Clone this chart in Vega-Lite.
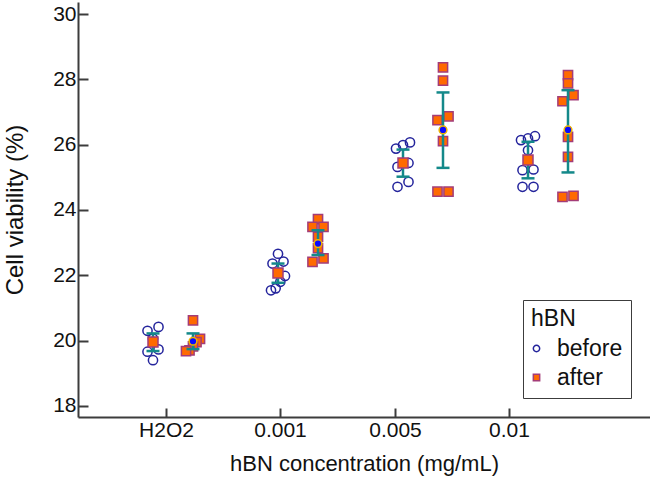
{
  "$schema": "https://vega.github.io/schema/vega-lite/v6.json",
  "width": 572,
  "height": 415,
  "autosize": "none",
  "padding": {"left": 78, "top": 2, "right": 0, "bottom": 70},
  "background": "white",
  "config": {
    "view": {"stroke": null},
    "font": "Liberation Sans",
    "axis": {
      "grid": false,
      "domainColor": "#3c3c3c",
      "domainWidth": 2,
      "tickColor": "#3c3c3c",
      "tickWidth": 2,
      "labelColor": "#111111",
      "labelFont": "Liberation Sans",
      "labelFontSize": 21,
      "titleFont": "Liberation Sans",
      "titleFontWeight": "normal",
      "titleColor": "#111111",
      "labelOverlap": false,
      "labelFlush": false
    },
    "legend": {
      "orient": "none",
      "legendX": 445,
      "legendY": 298,
      "strokeColor": "#3c3c3c",
      "padding": 8,
      "titleFont": "Liberation Sans",
      "titleFontSize": 23,
      "titleFontWeight": "normal",
      "titleColor": "#111111",
      "titlePadding": 6,
      "labelFont": "Liberation Sans",
      "labelFontSize": 23,
      "labelColor": "#111111",
      "labelOffset": 9,
      "labelExpr": "datum.label + '\u00a0\u00a0\u00a0'",
      "symbolOffset": -6,
      "symbolSize": 40,
      "symbolStrokeWidth": 1.5,
      "rowPadding": 5
    }
  },
  "datasets": {
    "cells": [
      {"conc": "H2O2", "hBN": "before", "value": 20.42},
      {"conc": "H2O2", "hBN": "before", "value": 20.30},
      {"conc": "H2O2", "hBN": "before", "value": 20.06},
      {"conc": "H2O2", "hBN": "before", "value": 19.73},
      {"conc": "H2O2", "hBN": "before", "value": 19.66},
      {"conc": "H2O2", "hBN": "before", "value": 19.40},
      {"conc": "H2O2", "hBN": "after", "value": 20.62},
      {"conc": "H2O2", "hBN": "after", "value": 20.05},
      {"conc": "H2O2", "hBN": "after", "value": 19.95},
      {"conc": "H2O2", "hBN": "after", "value": 19.82},
      {"conc": "H2O2", "hBN": "after", "value": 19.70},
      {"conc": "H2O2", "hBN": "after", "value": 19.68},
      {"conc": "0.001", "hBN": "before", "value": 22.66},
      {"conc": "0.001", "hBN": "before", "value": 22.42},
      {"conc": "0.001", "hBN": "before", "value": 22.36},
      {"conc": "0.001", "hBN": "before", "value": 21.98},
      {"conc": "0.001", "hBN": "before", "value": 21.80},
      {"conc": "0.001", "hBN": "before", "value": 21.60},
      {"conc": "0.001", "hBN": "before", "value": 21.54},
      {"conc": "0.001", "hBN": "after", "value": 23.72},
      {"conc": "0.001", "hBN": "after", "value": 23.48},
      {"conc": "0.001", "hBN": "after", "value": 23.48},
      {"conc": "0.001", "hBN": "after", "value": 23.18},
      {"conc": "0.001", "hBN": "after", "value": 22.83},
      {"conc": "0.001", "hBN": "after", "value": 22.52},
      {"conc": "0.001", "hBN": "after", "value": 22.41},
      {"conc": "0.005", "hBN": "before", "value": 26.07},
      {"conc": "0.005", "hBN": "before", "value": 25.99},
      {"conc": "0.005", "hBN": "before", "value": 25.88},
      {"conc": "0.005", "hBN": "before", "value": 25.44},
      {"conc": "0.005", "hBN": "before", "value": 25.32},
      {"conc": "0.005", "hBN": "before", "value": 24.86},
      {"conc": "0.005", "hBN": "before", "value": 24.71},
      {"conc": "0.005", "hBN": "after", "value": 28.37},
      {"conc": "0.005", "hBN": "after", "value": 27.96},
      {"conc": "0.005", "hBN": "after", "value": 26.87},
      {"conc": "0.005", "hBN": "after", "value": 26.75},
      {"conc": "0.005", "hBN": "after", "value": 26.11},
      {"conc": "0.005", "hBN": "after", "value": 24.56},
      {"conc": "0.005", "hBN": "after", "value": 24.56},
      {"conc": "0.01", "hBN": "before", "value": 26.26},
      {"conc": "0.01", "hBN": "before", "value": 26.19},
      {"conc": "0.01", "hBN": "before", "value": 26.14},
      {"conc": "0.01", "hBN": "before", "value": 25.83},
      {"conc": "0.01", "hBN": "before", "value": 25.24},
      {"conc": "0.01", "hBN": "before", "value": 25.22},
      {"conc": "0.01", "hBN": "before", "value": 24.71},
      {"conc": "0.01", "hBN": "before", "value": 24.71},
      {"conc": "0.01", "hBN": "after", "value": 28.13},
      {"conc": "0.01", "hBN": "after", "value": 27.88},
      {"conc": "0.01", "hBN": "after", "value": 27.52},
      {"conc": "0.01", "hBN": "after", "value": 27.33},
      {"conc": "0.01", "hBN": "after", "value": 26.24},
      {"conc": "0.01", "hBN": "after", "value": 25.63},
      {"conc": "0.01", "hBN": "after", "value": 24.43},
      {"conc": "0.01", "hBN": "after", "value": 24.40}
    ],
    "stats": [
      {"conc": "H2O2", "hBN": "before", "mean": 19.96, "lo": 19.68, "hi": 20.22},
      {"conc": "H2O2", "hBN": "after", "mean": 19.98, "lo": 19.74, "hi": 20.22},
      {"conc": "0.001", "hBN": "before", "mean": 22.07, "lo": 21.77, "hi": 22.36},
      {"conc": "0.001", "hBN": "after", "mean": 22.97, "lo": 22.62, "hi": 23.38},
      {"conc": "0.005", "hBN": "before", "mean": 25.44, "lo": 25.02, "hi": 25.85},
      {"conc": "0.005", "hBN": "after", "mean": 26.45, "lo": 25.29, "hi": 27.60},
      {"conc": "0.01", "hBN": "before", "mean": 25.53, "lo": 24.97, "hi": 26.09},
      {"conc": "0.01", "hBN": "after", "mean": 26.45, "lo": 25.15, "hi": 27.67}
    ]
  },
  "encoding": {
    "x": {
      "field": "xpos", "type": "quantitative",
      "title": "hBN concentration (mg/mL)",
      "scale": {"domain": [0.24, 4.816], "nice": false, "zero": false},
      "axis": {
        "values": [0.944, 1.856, 2.776, 3.688],
        "labelExpr": "datum.value < 1.4 ? 'H2O2' : datum.value < 2.3 ? '0.001' : datum.value < 3.2 ? '0.005' : '0.01'",
        "tickSize": -9,
        "labelPadding": 11,
        "titleFontSize": 22,
        "titlePadding": 13
      }
    }
  },
  "layer": [
    {
      "data": {"name": "cells"},
      "transform": [
        {"window": [{"op": "lag", "field": "value", "as": "prev"}], "groupby": ["conc", "hBN"], "sort": [{"field": "value", "order": "descending"}]},
        {"calculate": "datum.prev == null || datum.prev - datum.value > 0.22 ? 1 : 0", "as": "newCluster"},
        {"window": [{"op": "sum", "field": "newCluster", "as": "cluster"}], "groupby": ["conc", "hBN"], "sort": [{"field": "value", "order": "descending"}], "frame": [null, 0]},
        {"window": [{"op": "row_number", "as": "slot"}, {"op": "count", "as": "n"}], "groupby": ["conc", "hBN", "cluster"], "sort": [{"field": "value", "order": "descending"}], "frame": [null, null]},
        {"calculate": "datum.n == 1 ? 0 : ((datum.n + 1) / 2 - datum.slot) / ((datum.n - 1) / 2) * (datum.n == 2 ? 5.5 : 7)", "as": "swarm"},
        {"calculate": "indexof(['H2O2', '0.001', '0.005', '0.01'], datum.conc) + 1 + (datum.hBN === 'before' ? -0.16 : 0.16) + datum.swarm / 125", "as": "xpos"}
      ],
      "mark": {"type": "point", "strokeWidth": 1.5, "opacity": 1, "size": 85},
      "encoding": {
        "y": {
          "field": "value", "type": "quantitative",
          "title": "Cell viability (%)",
          "scale": {"domain": [17.66, 30.37], "nice": false, "zero": false},
          "axis": {
            "values": [18, 19, 20, 21, 22, 23, 24, 25, 26, 27, 28, 29, 30],
            "labelExpr": "datum.value % 2 === 0 ? datum.label : ''",
            "tickSize": {"condition": {"test": "datum.value % 2 === 0", "value": -10}, "value": -5},
            "labelPadding": 12,
            "titleFontSize": 24,
            "titlePadding": 25
          }
        },
        "shape": {"field": "hBN", "type": "nominal", "title": "hBN", "scale": {"domain": ["before", "after"], "range": ["circle", "square"]}},
        "fill": {"field": "hBN", "type": "nominal", "title": "hBN", "scale": {"domain": ["before", "after"], "range": ["transparent", "#ff6a00"]}},
        "stroke": {"field": "hBN", "type": "nominal", "title": "hBN", "scale": {"domain": ["before", "after"], "range": ["#24249c", "#a33c78"]}}
      }
    },
    {
      "data": {"name": "stats"},
      "transform": [
        {"calculate": "indexof(['H2O2', '0.001', '0.005', '0.01'], datum.conc) + 1 + (datum.hBN === 'before' ? -0.16 : 0.16)", "as": "xpos"}
      ],
      "mark": {"type": "rule", "color": "#14898a", "strokeWidth": 2.5, "opacity": 1},
      "encoding": {
        "y": {"field": "lo", "type": "quantitative", "title": "Cell viability (%)"},
        "y2": {"field": "hi"}
      }
    },
    {
      "data": {"name": "stats"},
      "transform": [
        {"calculate": "indexof(['H2O2', '0.001', '0.005', '0.01'], datum.conc) + 1 + (datum.hBN === 'before' ? -0.16 : 0.16)", "as": "xpos"}
      ],
      "mark": {"type": "tick", "orient": "horizontal", "color": "#14898a", "thickness": 2.5, "size": 13, "opacity": 1},
      "encoding": {
        "y": {"field": "lo", "type": "quantitative", "title": "Cell viability (%)"}
      }
    },
    {
      "data": {"name": "stats"},
      "transform": [
        {"calculate": "indexof(['H2O2', '0.001', '0.005', '0.01'], datum.conc) + 1 + (datum.hBN === 'before' ? -0.16 : 0.16)", "as": "xpos"}
      ],
      "mark": {"type": "tick", "orient": "horizontal", "color": "#14898a", "thickness": 2.5, "size": 13, "opacity": 1},
      "encoding": {
        "y": {"field": "hi", "type": "quantitative", "title": "Cell viability (%)"}
      }
    },
    {
      "data": {"name": "stats"},
      "transform": [
        {"filter": "datum.hBN === 'before'"},
        {"calculate": "indexof(['H2O2', '0.001', '0.005', '0.01'], datum.conc) + 1 - 0.16", "as": "xpos"}
      ],
      "mark": {"type": "point", "shape": "square", "filled": true, "fill": "#ff6a00", "stroke": "#a33c78", "strokeWidth": 1.5, "size": 100, "opacity": 1},
      "encoding": {
        "y": {"field": "mean", "type": "quantitative", "title": "Cell viability (%)"}
      }
    },
    {
      "data": {"name": "stats"},
      "transform": [
        {"filter": "datum.hBN === 'after'"},
        {"calculate": "indexof(['H2O2', '0.001', '0.005', '0.01'], datum.conc) + 1 + 0.16", "as": "xpos"}
      ],
      "mark": {"type": "point", "shape": "circle", "filled": true, "fill": "#0a0aff", "stroke": "#f0b400", "strokeWidth": 1.5, "size": 60, "opacity": 1},
      "encoding": {
        "y": {"field": "mean", "type": "quantitative", "title": "Cell viability (%)"}
      }
    }
  ]
}
